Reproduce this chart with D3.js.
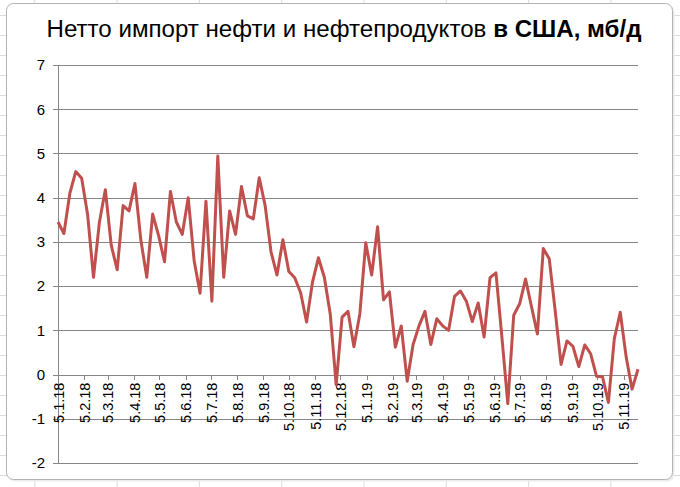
<!DOCTYPE html>
<html>
<head>
<meta charset="utf-8">
<script src="https://cdn.jsdelivr.net/npm/d3@7"></script>
<style>
  body { margin: 0; background: #fff; }
  svg { display: block; font-family: 'Liberation Sans', Arial, sans-serif; }
</style>
</head>
<body>
<svg id="chart" width="680" height="487"></svg>
<script>
// weekly net imports, mb/d, first week ending 5.1.18
const firstWeek = '2018-01-05'
const netImports = [
  3.45, 3.19, 4.10, 4.59, 4.44, 3.62, 2.20, 3.45, 4.18, 2.92,
  2.37, 3.82, 3.70, 4.32, 3.04, 2.20, 3.63, 3.14, 2.55, 4.14,
  3.45, 3.17, 4.00, 2.58, 1.84, 3.92, 1.66, 4.94, 2.20, 3.70,
  3.17, 4.25, 3.59, 3.52, 4.45, 3.82, 2.77, 2.25, 3.05, 2.33,
  2.19, 1.85, 1.19, 2.09, 2.64, 2.20, 1.37, -0.23, 1.30, 1.43,
  0.63, 1.37, 2.98, 2.25, 3.34, 1.69, 1.87, 0.62, 1.10, -0.15,
  0.68, 1.10, 1.43, 0.68, 1.26, 1.10, 1.00, 1.77, 1.89, 1.66,
  1.20, 1.62, 0.85, 2.19, 2.30, 0.85, -0.66, 1.34, 1.60, 2.16,
  1.54, 0.92, 2.85, 2.62, 1.45, 0.23, 0.76, 0.64, 0.18, 0.67,
  0.47, -0.04, -0.05, -0.63, 0.81, 1.41, 0.40, -0.33, 0.12
]
const monthLabels = [
  '5.1.18', '5.2.18', '5.3.18', '5.4.18', '5.5.18', '5.6.18', '5.7.18', '5.8.18',
  '5.9.18', '5.10.18', '5.11.18', '5.12.18', '5.1.19', '5.2.19', '5.3.19', '5.4.19',
  '5.5.19', '5.6.19', '5.7.19', '5.8.19', '5.9.19', '5.10.19', '5.11.19'
]
const yTicks = [-2, -1, 0, 1, 2, 3, 4, 5, 6, 7]

const svg = d3.select('#chart')
const W = 680, H = 487

// spreadsheet behind the chart
const sheet = svg.append('g')
sheet.selectAll('line.v').data(d3.range(-48, W, 82.3)).enter()
  .append('line')
    .attr('x1', d => d + 0.5).attr('x2', d => d + 0.5)
    .attr('y1', 0).attr('y2', H)
    .attr('stroke', '#dadcdd')
sheet.selectAll('line.h').data(d3.range(-5, H, 20)).enter()
  .append('line')
    .attr('x1', 0).attr('x2', W)
    .attr('y1', d => d + 0.5).attr('y2', d => d + 0.5)
    .attr('stroke', '#dadcdd')

// chart area
svg.append('rect')
  .attr('x', 8.5).attr('y', 5.5)
  .attr('width', 666).attr('height', 476)
  .attr('rx', 7)
  .attr('fill', '#ececec')
svg.append('rect')
  .attr('x', 6.5).attr('y', 3.5)
  .attr('width', 666).attr('height', 476)
  .attr('rx', 7)
  .attr('fill', '#fff')
  .attr('stroke', '#b3b3b3')

const plot = { left: 58, right: 638, top: 65, bottom: 463 }

const parseLabel = d3.timeParse('%d.%m.%y')
const start = d3.timeParse('%Y-%m-%d')(firstWeek)
const data = netImports.map((v, i) => ({ date: d3.timeWeek.offset(start, i), value: v }))

const x = d3.scaleTime()
  .domain(d3.extent(data, d => d.date))
  .range([plot.left, plot.right])
const y = d3.scaleLinear()
  .domain(d3.extent(yTicks))
  .range([plot.bottom, plot.top])

// gridlines
svg.append('g')
  .attr('transform', `translate(${plot.left},0)`)
  .call(d3.axisLeft(y).tickValues(yTicks).tickSize(-(plot.right - plot.left)).tickFormat(''))
  .call(g => g.select('.domain').remove())
  .call(g => g.selectAll('line').attr('stroke', '#878787').attr('shape-rendering', 'crispEdges'))

// y axis (plain hyphen for negatives, as in the original)
svg.append('g')
  .attr('transform', `translate(${plot.left},0)`)
  .call(d3.axisLeft(y).tickValues(yTicks).tickSize(5).tickPadding(8).tickFormat(d => String(d)))
  .call(g => g.select('.domain').attr('stroke', '#878787').attr('shape-rendering', 'crispEdges'))
  .call(g => g.selectAll('line').attr('stroke', '#878787').attr('shape-rendering', 'crispEdges'))
  .call(g => g.selectAll('text').attr('font-size', '15px').attr('fill', '#000').attr('font-family', null))

// x axis on the zero line
const xAxis = svg.append('g')
  .attr('transform', `translate(0,${y(0)})`)
  .call(d3.axisBottom(x)
    .tickValues(monthLabels.map(parseLabel))
    .tickSize(5)
    .tickFormat((d, i) => monthLabels[i]))
  .call(g => g.select('.domain').remove())
  .call(g => g.selectAll('line').attr('stroke', '#878787').attr('shape-rendering', 'crispEdges'))
xAxis.selectAll('text')
  .attr('font-size', '14.5px')
  .attr('font-family', null)
  .attr('fill', '#000')
  .attr('transform', 'rotate(-90)')
  .attr('text-anchor', 'end')
  .attr('x', -8)
  .attr('y', 0)
  .attr('dy', '0.35em')

// series
svg.append('path')
  .datum(data)
  .attr('fill', 'none')
  .attr('stroke', '#c0504d')
  .attr('stroke-width', 3)
  .attr('stroke-linejoin', 'round')
  .attr('d', d3.line().x(d => x(d.date)).y(d => y(d.value)))

// title
const title = svg.append('text')
  .attr('x', 344).attr('y', 37)
  .attr('text-anchor', 'middle')
  .attr('font-size', '24px')
  .attr('fill', '#000')
title.append('tspan').text('Нетто импорт нефти и нефтепродуктов ')
title.append('tspan').attr('font-weight', 'bold').text('в США, мб/д')
const tw = title.node().getComputedTextLength()
title.attr('font-size', (24 * 595 / tw).toFixed(2) + 'px')
</script>
</body>
</html>
